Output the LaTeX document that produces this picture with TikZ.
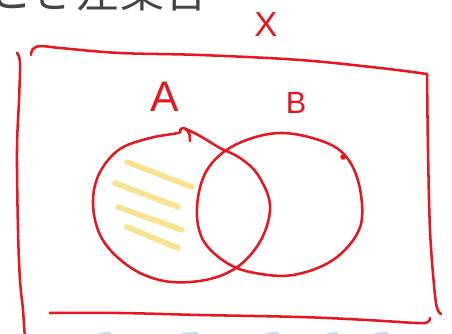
\documentclass[tikz,border=0pt]{standalone}
\usepackage{fontspec}
\setmainfont{Liberation Sans}
\newfontfamily\jpfont{Noto Sans CJK JP}
\definecolor{pen}{RGB}{232,22,32}
\definecolor{hl}{RGB}{246,222,125}
\definecolor{ink}{RGB}{68,68,68}
\definecolor{faint}{RGB}{205,218,240}
\begin{document}
\begin{tikzpicture}[x=0.75pt,y=-0.75pt,
  penline/.style={draw=pen,line width=1.9pt,line cap=round,line join=round},
  hatch/.style={draw=hl,line width=4.2pt,line cap=round,opacity=0.85},
  handlabel/.style={text=pen,inner sep=0pt},
  faintbit/.style={draw=faint,line width=2pt,line cap=round},
]
\useasboundingbox (0,0) rectangle (452,334);
\clip (0,0) rectangle (452,334);

% title, cut off at the top
\node[anchor=base west,text=ink,font=\jpfont\fontsize{33}{33}\selectfont,inner sep=0pt] (title) at (-12,8) {とき差集合};

% yellow hatching in A \ B
\draw[hatch] (127,162) -- (192,187);
\draw[hatch] (115,183) -- (178,207);
\draw[hatch] (118,207) -- (182,230);
\draw[hatch] (127,227) -- (178,248);

% universe rectangle (hand drawn)
\draw[penline] plot[smooth,tension=0.6] coordinates {(31,55) (33,49) (41,46) (60,48) (120,53) (200,55) (300,60) (380,68) (427,74)};
\draw[penline] plot[smooth,tension=0.6] coordinates {(427,74) (428,150) (430,230) (434,285) (437,308) (441,314)};
\draw[penline] plot[smooth,tension=0.6] coordinates {(50,313) (120,313) (200,315) (300,317) (367,320) (417,323) (428,322) (430,318)};
\draw[penline] plot[smooth,tension=0.6] coordinates {(17,53) (20,63) (19,100) (17,150) (18,230) (20,280) (23,310) (25,340)};

% set A
\draw[penline] plot[smooth,tension=0.6] coordinates {(190,141) (189,133) (184,128) (180,130) (178,133) (150,138) (120,149) (100,172) (93,200) (98,230) (113,253) (140,273) (172,282) (210,279) (240,265) (262,238) (270,205) (258,175) (240,158) (220,148) (200,136) (186,129)};

% set B
\draw[penline] plot[smooth cycle,tension=0.6] coordinates {(280,133) (327,143) (350,162) (361,195) (359,230) (333,260) (293,275) (255,273) (227,263) (203,240) (197,207) (207,170) (235,145)};
\fill[pen] (343,157) circle (2.8);

% labels
\node[handlabel,font=\fontsize{26}{26}\selectfont] (X) at (266,25) {X};
\node[handlabel,font=\fontsize{32}{32}\selectfont] (A) at (165,97) {A};
\node[handlabel,font=\fontsize{23}{23}\selectfont] (B) at (296,103) {B};

% faint fragments of the next line, cut off at the bottom
\draw[faintbit] (100,334) -- (110,333);
\draw[faintbit] (182,334) -- (197,333);
\draw[faintbit] (267,334) -- (278,333);
\draw[faintbit] (328,334) -- (337,333);
\draw[faintbit] (375,334) -- (387,333);
\end{tikzpicture}
\end{document}
